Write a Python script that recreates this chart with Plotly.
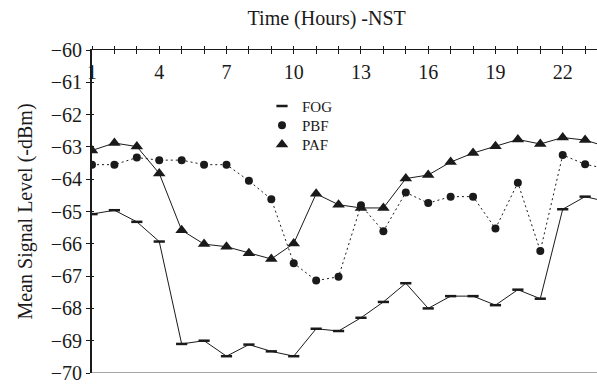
import plotly.graph_objects as go

hours = list(range(1, 25))
fog = [-65.08, -64.96, -65.32, -65.93, -69.10, -69.00, -69.48, -69.12, -69.33, -69.48,
       -68.63, -68.70, -68.29, -67.80, -67.22, -68.00, -67.62, -67.62, -67.90, -67.42,
       -67.70, -64.93, -64.54, -64.70]
pbf = [-63.55, -63.55, -63.33, -63.41, -63.41, -63.55, -63.55, -64.05, -64.62, -66.60,
       -67.14, -67.02, -64.81, -65.61, -64.41, -64.74, -64.54, -64.54, -65.53, -64.11,
       -66.22, -63.25, -63.54, -63.68]
paf = [-63.11, -62.88, -62.99, -63.82, -65.58, -66.01, -66.09, -66.29, -66.47, -65.99,
       -64.45, -64.79, -64.89, -64.89, -63.98, -63.87, -63.47, -63.19, -62.98, -62.77,
       -62.91, -62.71, -62.79, -63.00]

x_tickvals = list(range(1, 24))
x_ticktext = [str(v) if (v - 1) % 3 == 0 else "" for v in x_tickvals]
y_tickvals = list(range(-70, -59))

INK = "#1a1a1a"
FONT = "Liberation Serif, 'Times New Roman', Times, serif"

fig = go.Figure()
fig.add_trace(go.Scatter(x=hours, y=fog, mode="lines+markers", name="FOG", showlegend=False,
                         line=dict(color=INK, width=1),
                         marker=dict(symbol="line-ew", size=8, line=dict(color=INK, width=2.5))))
fig.add_trace(go.Scatter(x=hours, y=pbf, mode="lines+markers", name="PBF", showlegend=False,
                         line=dict(color=INK, width=1, dash="2px,3px"),
                         marker=dict(symbol="circle", size=8, color=INK)))
fig.add_trace(go.Scatter(x=hours, y=paf, mode="lines+markers", name="PAF", showlegend=False,
                         line=dict(color=INK, width=1),
                         marker=dict(symbol="triangle-up", size=11, color=INK)))
# legend entries (markers only), one legend each for exact row spacing
fig.add_trace(go.Scatter(x=[None], y=[None], mode="markers", name="FOG", legend="legend",
                         marker=dict(symbol="line-ew", size=8, line=dict(color=INK, width=2.5))))
fig.add_trace(go.Scatter(x=[None], y=[None], mode="markers", name="PBF", legend="legend2",
                         marker=dict(symbol="circle", size=8, color=INK)))
fig.add_trace(go.Scatter(x=[None], y=[None], mode="markers", name="PAF", legend="legend3",
                         marker=dict(symbol="triangle-up", size=11, color=INK)))
# overlay axis trace for inside ticks
fig.add_trace(go.Scatter(x=[None], y=[None], xaxis="x2", yaxis="y2", showlegend=False))

xr = [1, 23.53]


def leg(center_px):
    return dict(x=(262 - 92) / 505, y=(376 - (center_px - 15)) / 326, xanchor="left", yanchor="top",
                bgcolor="rgba(0,0,0,0)", borderwidth=0,
                font=dict(size=15, family=FONT, color=INK))


fig.update_layout(
    width=597, height=384,
    margin=dict(l=92, r=0, t=50, b=8),
    paper_bgcolor="white", plot_bgcolor="white",
    font=dict(family=FONT, color=INK, size=20),
    title=dict(text="Time (Hours) -NST", x=326.7 / 597, xanchor="center",
               y=1 - 18 / 384, yanchor="middle", font=dict(size=20, family=FONT, color=INK)),
    xaxis=dict(side="top", range=xr, showline=True, linecolor=INK, linewidth=1,
               ticks="outside", ticklen=3, tickcolor=INK, tickwidth=1,
               tickmode="array", tickvals=x_tickvals, ticktext=x_ticktext,
               ticklabelposition="inside", ticklabeloverflow="allow", ticklabelstandoff=16,
               tickfont=dict(size=20, family=FONT, color=INK),
               showgrid=False, zeroline=False),
    xaxis2=dict(overlaying="x", side="top", range=xr, showline=False,
                ticks="inside", ticklen=4, tickcolor=INK, tickwidth=1,
                tickmode="array", tickvals=x_tickvals, showticklabels=False,
                showgrid=False, zeroline=False),
    yaxis=dict(range=[-70, -60], showline=True, linecolor=INK, linewidth=2,
               ticks="outside", ticklen=4, tickcolor=INK, tickwidth=1,
               tickmode="array", tickvals=y_tickvals, ticklabeloverflow="allow",
               tickfont=dict(size=20, family=FONT, color=INK),
               showgrid=False, zeroline=False),
    yaxis2=dict(overlaying="y", range=[-70, -60], showline=False,
                ticks="inside", ticklen=2, tickcolor=INK, tickwidth=1,
                tickmode="array", tickvals=y_tickvals, showticklabels=False,
                showgrid=False, zeroline=False),
    legend=leg(105),
    legend2=leg(124.5),
    legend3=leg(144),
    shapes=[dict(type="line", xref="paper", yref="y", x0=0, x1=1, y0=-70, y1=-70,
                 line=dict(color="#888888", width=1.5))],
    annotations=[dict(text="Mean Signal Level (-dBm)", textangle=-90, xref="paper", yref="paper",
                      x=(25 - 92) / 505, y=0.5, xanchor="center", yanchor="middle",
                      showarrow=False, font=dict(size=20, family=FONT, color=INK))],
)

fig.write_html("out.html")
